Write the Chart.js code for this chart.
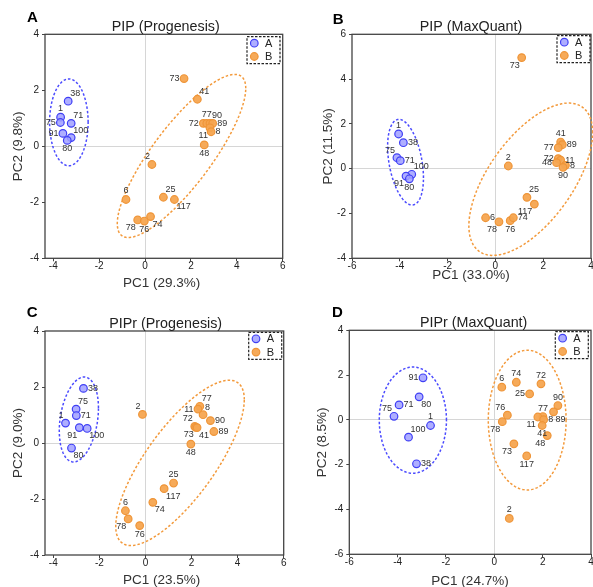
<!DOCTYPE html>
<html><head><meta charset="utf-8">
<script src="https://cdn.jsdelivr.net/npm/chart.js@4.4.0/dist/chart.umd.min.js"></script>
<style>html,body{margin:0;padding:0;background:#fff;overflow:hidden;width:593px;height:587px;position:relative}</style>
</head><body>
<script>
// ---------- DATA ----------
// Panel A: PIP (Progenesis)
const A_idsA = ['1','38','75','71','91','100','80'];
const A_pc1A = [-3.68,-3.35,-3.69,-3.22,-3.58,-3.22,-3.39];
const A_pc2A = [1.04,1.61,0.85,0.82,0.46,0.31,0.21];
const A_idsB = ['73','41','72','77','90','89','11','8','48','2','6','25','117','74','78','76'];
const A_pc1B = [1.70,2.28,2.54,2.69,2.83,2.95,2.83,2.88,2.58,0.30,-0.83,0.80,1.28,0.24,-0.32,-0.03];
const A_pc2B = [2.42,1.68,0.82,0.82,0.82,0.82,0.66,0.52,0.05,-0.65,-1.90,-1.82,-1.90,-2.51,-2.63,-2.67];
const A_ellA = [-3.32,0.857,0.84,0,1.55];      // centre x, centre y, conjugate semi-diameter (x,y), vertical half-chord
const A_ellB = [1.59,-0.345,2.80,2.415,1.63];
const A_xTicks = [-4,-2,0,2,4,6];
const A_yTicks = [-4,-2,0,2,4];

// Panel B: PIP (MaxQuant)
const B_idsA = ['1','38','75','71','100','91','80'];
const B_pc1A = [-4.05,-3.85,-4.12,-3.98,-3.50,-3.74,-3.60];
const B_pc2A = [1.55,1.16,0.49,0.36,-0.25,-0.33,-0.45];
const B_idsB = ['73','41','89','77','72','11','48','8','90','2','25','117','6','78','76','74'];
const B_pc1B = [1.10,2.73,2.80,2.63,2.63,2.73,2.56,2.93,2.83,0.54,1.32,1.63,-0.41,0.15,0.62,0.75];
const B_pc2B = [4.96,1.19,1.07,0.94,0.45,0.38,0.27,0.15,0.06,0.12,-1.28,-1.58,-2.19,-2.37,-2.32,-2.19];
const B_ellA = [-3.76,0.29,0.75,-0.7,1.78];
const B_ellB = [1.48,-0.47,2.59,2.08,2.69];
const B_xTicks = [-6,-4,-2,0,2,4];
const B_yTicks = [-4,-2,0,2,4,6];

// Panel C: PIPr (Progenesis)
const C_idsA = ['38','75','71','1','91','100','80'];
const C_pc1A = [-2.69,-3.01,-3.00,-3.47,-2.87,-2.53,-3.21];
const C_pc2A = [1.95,1.21,0.98,0.71,0.55,0.52,-0.18];
const C_idsB = ['2','77','11','8','90','89','72','73','41','48','25','117','74','6','78','76'];
const C_pc1B = [-0.13,2.36,2.28,2.50,2.82,2.97,2.14,2.18,2.24,1.97,1.22,0.81,0.32,-0.87,-0.75,-0.25];
const C_pc2B = [1.02,1.31,1.21,1.01,0.80,0.41,0.59,0.56,0.55,-0.04,-1.43,-1.63,-2.12,-2.42,-2.71,-2.95];
const C_ellA = [-2.89,0.84,0.85,0.41,1.46];
const C_ellB = [1.50,-0.71,2.79,2.26,1.90];
const C_xTicks = [-4,-2,0,2,4,6];
const C_yTicks = [-4,-2,0,2,4];

// Panel D: PIPr (MaxQuant)
const D_idsA = ['91','80','71','75','1','100','38'];
const D_pc1A = [-2.95,-3.11,-3.94,-4.15,-2.64,-3.55,-3.22];
const D_pc2A = [1.88,1.03,0.67,0.16,-0.25,-0.77,-1.96];
const D_idsB = ['6','74','72','25','90','89','77','11','8','41','48','76','78','73','117','2'];
const D_pc1B = [0.31,0.91,1.93,1.46,2.63,2.45,2.01,1.80,2.04,1.98,2.19,0.54,0.33,0.81,1.34,0.62];
const D_pc2B = [1.46,1.68,1.61,1.16,0.64,0.36,0.15,0.13,0.01,-0.25,-0.70,0.21,-0.08,-1.07,-1.61,-4.40];
const D_ellA = [-3.37,-0.01,1.39,0,2.37];
const D_ellB = [1.36,-0.01,1.61,0,3.12];
const D_xTicks = [-6,-4,-2,0,2,4];
const D_yTicks = [-6,-4,-2,0,2,4];

// ---------- LABEL PLACEMENT (style) ----------
const spots = {
  A: {a:['t','tr','l','tr','l','tr','b'], b:['l','tr','l','t','tr','r','bl','r','b','tl','t','tr','br','br','bl','b']},
  B: {a:['t','r','tl','r','tr','bl','b'], b:['bl','t','r','l','l','r','l','r','b','t','tr','bl','r','bl','b','r']},
  C: {a:['r','tr','r','tl','bl','br','br'], b:['tl','tr','l','tr','r','r','tl','bl','br','b','t','br','br','t','bl','b']},
  D: {a:['l','br','r','tl','t','tr','r'], b:['t','t','t','l','t','br','t','bl','r','b','bl','tl','bl','bl','b','t']}
};

// ---------- LAYOUT ----------
const panels = [
  {key:'A', title:'PIP (Progenesis)', xTitle:'PC1 (29.3%)', yTitle:'PC2 (9.8%)',
   idsA:A_idsA, pc1A:A_pc1A, pc2A:A_pc2A, idsB:A_idsB, pc1B:A_pc1B, pc2B:A_pc2B, ellA:A_ellA, ellB:A_ellB,
   xTicks:A_xTicks, yTicks:A_yTicks, xMin:-4.36, xMax:6, yMin:-4, yMax:4,
   left:0, top:0, w:296, h:290, area:{l:45,t:34.3,r:282.7,b:258.3},
   letter:{x:27,y:18.3}, titlePos:{x:165.7,y:26.7}, xTitlePos:{x:161.7,y:283.3}, yTitlePos:{x:18,y:146.3}, legend:{x:247,y:36.7}},
  {key:'B', title:'PIP (MaxQuant)', xTitle:'PC1 (33.0%)', yTitle:'PC2 (11.5%)',
   idsA:B_idsA, pc1A:B_pc1A, pc2A:B_pc2A, idsB:B_idsB, pc1B:B_pc1B, pc2B:B_pc2B, ellA:B_ellA, ellB:B_ellB,
   xTicks:B_xTicks, yTicks:B_yTicks, xMin:-6, xMax:4, yMin:-4, yMax:6,
   left:296, top:0, w:310, h:290, area:{l:56,t:34.3,r:295,b:258.3},
   letter:{x:36.7,y:19.7}, titlePos:{x:175,y:26.7}, xTitlePos:{x:175,y:275.3}, yTitlePos:{x:32.3,y:146.3}, legend:{x:261,y:35.7}},
  {key:'C', title:'PIPr (Progenesis)', xTitle:'PC1 (23.5%)', yTitle:'PC2 (9.0%)',
   idsA:C_idsA, pc1A:C_pc1A, pc2A:C_pc2A, idsB:C_idsB, pc1B:C_pc1B, pc2B:C_pc2B, ellA:C_ellA, ellB:C_ellB,
   xTicks:C_xTicks, yTicks:C_yTicks, xMin:-4.36, xMax:6, yMin:-4, yMax:4,
   left:0, top:290, w:296, h:297, area:{l:45,t:41,r:283.7,b:265},
   letter:{x:26.7,y:22.7}, titlePos:{x:165.7,y:34}, xTitlePos:{x:161.7,y:290}, yTitlePos:{x:18.3,y:153}, legend:{x:248.7,y:42.3}},
  {key:'D', title:'PIPr (MaxQuant)', xTitle:'PC1 (24.7%)', yTitle:'PC2 (8.5%)',
   idsA:D_idsA, pc1A:D_pc1A, pc2A:D_pc2A, idsB:D_idsB, pc1B:D_pc1B, pc2B:D_pc2B, ellA:D_ellA, ellB:D_ellB,
   xTicks:D_xTicks, yTicks:D_yTicks, xMin:-6, xMax:4, yMin:-6, yMax:4,
   left:296, top:290, w:310, h:297, area:{l:53.3,t:40.3,r:295,b:264.3},
   letter:{x:36,y:23.3}, titlePos:{x:177.7,y:33.3}, xTitlePos:{x:174,y:291}, yTitlePos:{x:26.7,y:152.3}, legend:{x:259.3,y:41.7}}
];

const FONT = "'Liberation Sans', Arial, sans-serif";
const COL = {
  aFill:'rgba(160,160,255,0.85)', aLine:'#3f3ff5',
  bFill:'rgba(245,165,80,0.95)', bLine:'#ef9538',
  ellA:'#4b4bff', ellB:'#f39a3c'
};

function ellipsePath(ctx, chart, e) {
  const xs = chart.scales.x, ys = chart.scales.y;
  const [cx, cy, ux, uy, h] = e;
  ctx.beginPath();
  for (let i = 0; i <= 120; i++) {
    const t = i / 120 * Math.PI * 2;
    const dx = cx + ux * Math.cos(t);
    const dy = cy + uy * Math.cos(t) + h * Math.sin(t);
    const px = xs.getPixelForValue(dx), py = ys.getPixelForValue(dy);
    if (i === 0) ctx.moveTo(px, py); else ctx.lineTo(px, py);
  }
  ctx.closePath();
}

function drawLabel(ctx, x, y, text, code) {
  let tx = x, ty = y, align = 'center', base = 'middle';
  switch (code) {
    case 'r': tx = x + 4.5; align = 'left'; break;
    case 'l': tx = x - 4.5; align = 'right'; break;
    case 't': ty = y - 4; base = 'bottom'; break;
    case 'b': ty = y + 4; base = 'top'; break;
    case 'tr': tx = x + 2; ty = y - 3; align = 'left'; base = 'bottom'; break;
    case 'tl': tx = x - 2; ty = y - 3; align = 'right'; base = 'bottom'; break;
    case 'br': tx = x + 2; ty = y + 3; align = 'left'; base = 'top'; break;
    case 'bl': tx = x - 2; ty = y + 3; align = 'right'; base = 'top'; break;
  }
  ctx.textAlign = align; ctx.textBaseline = base;
  ctx.fillText(text, tx, ty);
}

function makePanel(p) {
  const cv = document.createElement('canvas');
  cv.width = p.w; cv.height = p.h;
  cv.style.cssText = `position:absolute;left:${p.left}px;top:${p.top}px;width:${p.w}px;height:${p.h}px`;
  document.body.appendChild(cv);

  const deco = {
    id: 'deco' + p.key,
    beforeDatasetsDraw(chart) {
      const ctx = chart.ctx, a = chart.chartArea;
      ctx.save();
      ctx.strokeStyle = '#444'; ctx.lineWidth = 1.3;
      ctx.strokeRect(a.left, a.top, a.right - a.left, a.bottom - a.top);
      ctx.lineWidth = 1.5; ctx.setLineDash([2.5, 2]);
      ctx.strokeStyle = COL.ellA; ellipsePath(ctx, chart, p.ellA); ctx.stroke();
      ctx.strokeStyle = COL.ellB; ellipsePath(ctx, chart, p.ellB); ctx.stroke();
      ctx.restore();
    },
    afterDatasetsDraw(chart) {
      const ctx = chart.ctx;
      ctx.save();
      ctx.font = '9px ' + FONT; ctx.fillStyle = '#333';
      const sp = spots[p.key];
      const groups = [[p.idsA, sp.a], [p.idsB, sp.b]];
      groups.forEach((g, di) => {
        chart.getDatasetMeta(di).data.forEach((el, j) => drawLabel(ctx, el.x, el.y, g[0][j], g[1][j]));
      });
      // legend box
      const L = p.legend;
      ctx.setLineDash([2.5, 1.5]); ctx.strokeStyle = '#222'; ctx.lineWidth = 1.2;
      ctx.strokeRect(L.x, L.y, 33, 27);
      ctx.setLineDash([]);
      [['A', COL.aFill, COL.aLine, 6.5], ['B', COL.bFill, COL.bLine, 19.8]].forEach(([t, f, s, dy]) => {
        ctx.beginPath(); ctx.arc(L.x + 7.3, L.y + dy, 3.8, 0, Math.PI * 2);
        ctx.fillStyle = f; ctx.fill(); ctx.strokeStyle = s; ctx.lineWidth = 1.2; ctx.stroke();
        ctx.fillStyle = '#222'; ctx.font = '11px ' + FONT; ctx.textAlign = 'left'; ctx.textBaseline = 'middle';
        ctx.fillText(t, L.x + 18, L.y + dy + 0.5);
      });
      // titles
      ctx.fillStyle = '#000'; ctx.font = 'bold 15px ' + FONT; ctx.textAlign = 'left'; ctx.textBaseline = 'middle';
      ctx.fillText(p.key, p.letter.x, p.letter.y);
      ctx.fillStyle = '#222'; ctx.font = '14.3px ' + FONT; ctx.textAlign = 'center';
      ctx.fillText(p.title, p.titlePos.x, p.titlePos.y);
      ctx.fillStyle = '#333'; ctx.font = '13.5px ' + FONT;
      ctx.fillText(p.xTitle, p.xTitlePos.x, p.xTitlePos.y);
      ctx.translate(p.yTitlePos.x, p.yTitlePos.y); ctx.rotate(-Math.PI / 2);
      ctx.fillText(p.yTitle, 0, 0);
      ctx.restore();
    }
  };

  const gridCfg = {
    color: c => (c.tick && c.tick.value === 0) ? '#d6d6d6' : 'rgba(0,0,0,0)',
    tickColor: '#444', tickLength: 3, lineWidth: 1, drawTicks: true
  };
  const tickFont = {family: FONT, size: 10, lineHeight: 1};

  new Chart(cv, {
    type: 'scatter',
    data: {datasets: [
      {label: 'A', data: p.pc1A.map((x, i) => ({x, y: p.pc2A[i]})),
       backgroundColor: COL.aFill, borderColor: COL.aLine, borderWidth: 1.2, pointRadius: 3.8},
      {label: 'B', data: p.pc1B.map((x, i) => ({x, y: p.pc2B[i]})),
       backgroundColor: COL.bFill, borderColor: COL.bLine, borderWidth: 1.2, pointRadius: 3.8}
    ]},
    options: {
      responsive: false, animation: false, devicePixelRatio: 1,
      layout: {padding: {left: 0, top: p.area.t, right: p.w - p.area.r, bottom: 0}},
      plugins: {legend: {display: false}, tooltip: {enabled: false}, title: {display: false}},
      scales: {
        x: {type: 'linear', min: p.xMin, max: p.xMax,
            afterBuildTicks: s => { s.ticks = p.xTicks.map(v => ({value: v})); },
            afterFit: s => { s.height = p.h - p.area.b; },
            grid: gridCfg, border: {display: false},
            ticks: {font: tickFont, color: '#222', padding: 0, maxRotation: 0, autoSkip: false}},
        y: {type: 'linear', min: p.yMin, max: p.yMax,
            afterBuildTicks: s => { s.ticks = p.yTicks.map(v => ({value: v})); },
            afterFit: s => { s.width = p.area.l; },
            grid: gridCfg, border: {display: false},
            ticks: {font: tickFont, color: '#222', padding: 3, autoSkip: false}}
      }
    },
    plugins: [deco]
  });
}

panels.forEach(makePanel);
</script>
</body></html>
